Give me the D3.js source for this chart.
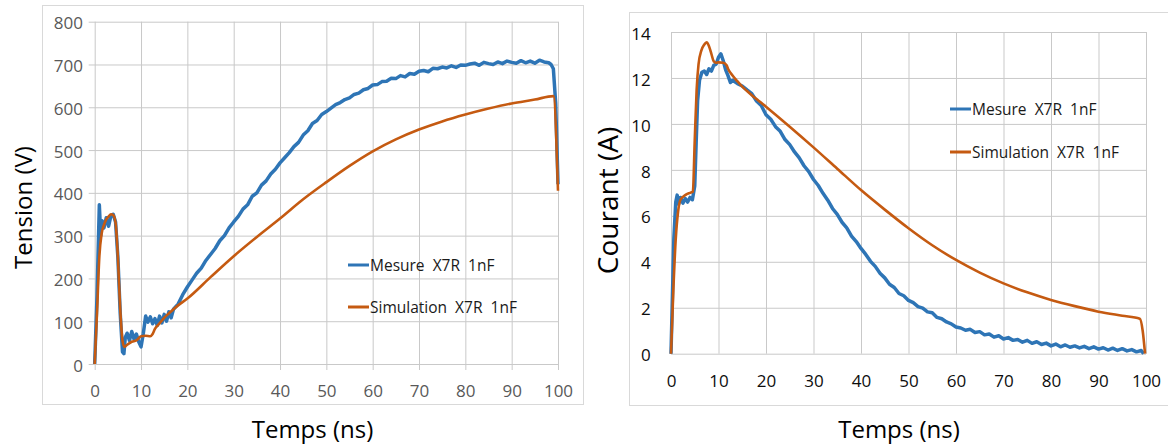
<!DOCTYPE html>
<html><head><meta charset="utf-8">
<script src="https://cdn.jsdelivr.net/npm/d3@7/dist/d3.min.js"></script>
<style>
html,body{margin:0;padding:0;background:#fff;}
svg{display:block;font-family:"Open Sans",sans-serif;}
</style></head>
<body><svg id="c" width="1168" height="446"></svg>
<script>
// ---------- DATA ----------
const seriesNames = ["Mesure  X7R  1nF", "Simulation  X7R  1nF"];
const xTicks = [0,10,20,30,40,50,60,70,80,90,100];
const tensionTicks = [0,100,200,300,400,500,600,700,800];
const courantTicks = [0,2,4,6,8,10,12,14];

// Tension (V) - mesure
const tMesureV = [0,0.5,1,1.3,1.6,2,2.5,3,3.5,4,4.5,5,5.5,6,6.3,6.6,7,7.5,8,8.5,9,9.5,10,10.5,11,11.5,12,12.5,13,13.5,14,14.5,15,15.5,16,16.5,17,
 18,19,20,21,22,23,24,25,26,27,28,29,30,31,32,33,34,35,36,37,38,39,40,41,42,43,44,45,46,47,48,49,50,
 51,52,53,54,55,56,57,58,59,60,61,62,63,64,65,66,67,68,69,70,71,72,73,74,75,76,77,78,79,80,
 81,82,83,84,85,86,87,88,89,90,91,92,93,94,95,96,97,98,98.5,99,99.5,100];
const mesureV = [0,160,372,300,335,318,342,322,346,350,332,250,120,28,24,62,72,55,76,58,70,52,40,72,112,98,110,94,106,90,112,96,116,100,122,108,128,
 140,162,180,196,212,224,242,256,270,288,300,318,332,345,362,372,392,400,418,428,444,455,470,482,494,508,518,535,545,562,569,583,590,
 598,606,611,618,622,630,633,641,644,652,653,660,661,668,667,674,671,679,677,684,686,683,691,690,694,692,697,693,699,698,
 701,703,698,705,702,700,706,702,708,705,703,709,704,708,703,710,706,704,700,690,610,420];

// Tension (V) - simulation
const tSimV = [0,0.5,1,1.5,2,2.5,3,3.5,4,4.5,5,5.5,6,6.4,7,8,9,10,11,12,12.5,13,14,15,16,17,18,20,25,30,35,40,45,50,55,60,65,70,75,80,85,90,95,99,100];
const simV  = [0,120,250,305,325,338,345,350,348,330,250,130,55,40,45,52,55,65,66,65,70,82,95,108,118,128,137,153,203,252,297,340,385,425,463,497,525,548,567,583,597,609,618,626,405];

// Courant (A) - mesure
const tMesureI = [0,0.3,0.6,1,1.3,1.6,2,2.5,3,3.5,4,4.5,5,5.3,5.6,6,6.5,7,7.5,8,8.5,9,9.5,10,10.5,11,11.5,12,12.5,13,
 14,15,16,17,18,19,20,21,22,23,24,25,26,27,28,29,30,31,32,33,34,35,36,37,38,39,40,41,42,43,44,45,46,47,48,49,50,
 51,52,53,54,55,56,57,58,59,60,61,62,63,64,65,66,67,68,69,70,71,72,73,74,75,76,77,78,79,80,
 81,82,83,84,85,86,87,88,89,90,91,92,93,94,95,96,97,98,99,99.5];
const mesureI = [0,2.5,5,6.6,6.9,6.5,6.8,6.55,6.75,6.6,6.8,6.7,7.3,9.2,11,11.9,12.25,12.3,12.15,12.4,12.3,12.55,12.6,12.9,13.05,12.75,12.35,12.1,11.8,11.9,
 11.75,11.65,11.48,11.32,11.0,10.8,10.4,10.2,9.88,9.68,9.32,9.1,8.78,8.52,8.18,7.92,7.58,7.32,6.98,6.68,6.32,6.06,5.72,5.48,5.12,4.88,4.58,4.32,4.02,3.8,3.5,3.3,3.02,2.88,2.62,2.52,2.32,
 2.22,2.05,1.98,1.82,1.78,1.58,1.52,1.38,1.3,1.16,1.12,1.02,1.06,0.92,0.96,0.82,0.86,0.72,0.78,0.64,0.7,0.58,0.62,0.5,0.58,0.45,0.52,0.4,0.46,0.34,
 0.42,0.3,0.38,0.28,0.34,0.25,0.32,0.22,0.3,0.2,0.26,0.16,0.24,0.14,0.22,0.12,0.18,0.08,0.14,0];

// Courant (A) - simulation
const tSimI = [0,0.5,1,1.5,2,3,4,4.6,5,5.4,5.8,6.4,7,7.5,8,8.5,9,9.5,10,11,11.7,12,13,14,15,16,17,18,19,20,25,30,35,40,45,50,55,60,65,70,75,80,85,90,95,98.7,99.3,99.8];
const simI  = [0,2.8,5.0,6.2,6.7,6.9,7.0,7.05,9.3,11.5,12.6,13.2,13.45,13.55,13.38,13.05,12.72,12.66,12.68,12.66,12.55,12.4,12.1,11.85,11.62,11.43,11.25,11.08,10.92,10.75,9.88,8.98,8.05,7.12,6.27,5.46,4.72,4.08,3.53,3.06,2.67,2.34,2.07,1.83,1.65,1.52,1.0,0];

// ---------- DRAW ----------
const svg = d3.select("#c");
const blue = "#2e75b6", orange = "#c55a11", grid = "#c9c9c9";

function panel(o){
  const g = svg.append("g");
  g.append("rect").attr("x",o.bx).attr("y",o.by).attr("width",o.bw).attr("height",o.bh)
    .attr("fill","#fff").attr("stroke","#d9d9d9").attr("stroke-width",1);
  const x = d3.scaleLinear([0,100],[o.x0,o.x1]);
  const y = d3.scaleLinear([0,o.ymax],[o.y0,o.y1]);
  const pw = o.x1-o.x0, ph = o.y0-o.y1;

  const ax = g.append("g").attr("transform",`translate(0,${o.y0})`)
    .call(d3.axisBottom(x).tickValues(xTicks).tickSize(-ph).tickSizeOuter(0).tickPadding(o.xpad));
  ax.select(".domain").remove();
  ax.selectAll("line").attr("stroke",grid).attr("y1",o.tick);
  ax.selectAll("text").attr("fill",o.tickColor).style("font-size","17px").style("font-family","'Open Sans'");

  const ay = g.append("g").attr("transform",`translate(${o.x0},0)`)
    .call(d3.axisLeft(y).tickValues(o.yTicks).tickSize(-pw).tickSizeOuter(0).tickPadding(o.ypad));
  ay.select(".domain").remove();
  ay.selectAll("line").attr("stroke",grid).attr("x1",-o.tick);
  ay.selectAll("text").attr("fill",o.tickColor).attr("dy","0.42em").style("font-size","17px").style("font-family","'Open Sans'");

  const lineM = d3.line().x((d,i)=>x(o.tM[i])).y(d=>y(d));
  const lineS = d3.line().x((d,i)=>x(o.tS[i])).y(d=>y(d)).curve(d3.curveMonotoneX);
  g.append("path").attr("d",lineM(o.m)).attr("fill","none").attr("stroke",blue)
    .attr("stroke-width",3.5).attr("stroke-linejoin","round");
  g.append("path").attr("d",lineS(o.s)).attr("fill","none").attr("stroke",orange)
    .attr("stroke-width",2.6).attr("stroke-linejoin","round");

  // legend
  [blue,orange].forEach((c,i)=>{
    const ly = o.legY[i];
    g.append("line").attr("x1",o.legX).attr("x2",o.legX+21).attr("y1",ly).attr("y2",ly)
      .attr("stroke",c).attr("stroke-width",3);
    g.append("text").attr("x",o.legX+22).attr("y",ly+5.5).text(seriesNames[i])
      .attr("fill","#1a1a1a").style("font-size","15.5px").style("white-space","pre");
  });

  g.append("text").attr("x",o.xtX).attr("y",437.5).attr("text-anchor","middle")
    .style("font-size","24px").attr("fill","#000").text("Temps (ns)");
  g.append("text").attr("transform",`translate(${o.ytX},${o.ytY}) rotate(-90)`).attr("text-anchor","middle")
    .style("font-size",o.ytSize+"px").attr("fill","#000").text(o.yTitle);
}

panel({bx:42.5,by:5.5,bw:541,bh:399,x0:94.7,x1:558,y0:364,y1:21.7,ymax:800,yTicks:tensionTicks,
  tick:6,xpad:21,ypad:11.7,tickColor:"#595959",tM:tMesureV,m:mesureV,tS:tSimV,s:simV,
  legX:348,legY:[265,307],xtX:312.5,ytX:31.7,ytY:207.5,ytSize:24,yTitle:"Tension (V)"});

panel({bx:629.5,by:12.5,bw:560,bh:393,x0:671,x1:1146,y0:353.7,y1:32,ymax:14,yTicks:courantTicks,
  tick:0,xpad:21,ypad:20.3,tickColor:"#0d0d0d",tM:tMesureI,m:mesureI,tS:tSimI,s:simI,
  legX:950,legY:[109,152],xtX:899,ytX:618.3,ytY:200.5,ytSize:28,yTitle:"Courant (A)"});
</script></body></html>
